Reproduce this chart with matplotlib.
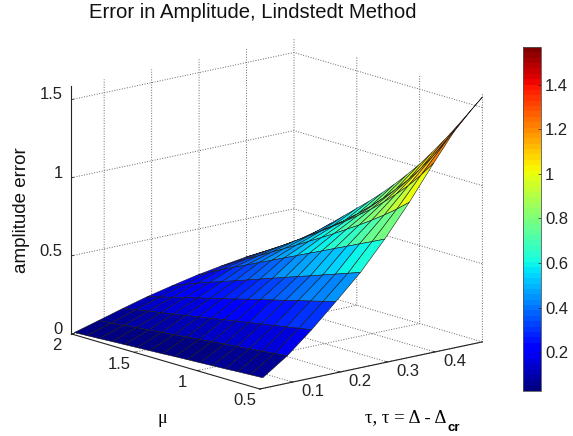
import numpy as np
import matplotlib
matplotlib.use("Agg")
import matplotlib.pyplot as plt
from matplotlib.cm import ScalarMappable
from matplotlib.colors import Normalize

plt.rcParams['font.family'] = ['Liberation Sans', 'DejaVu Sans']
plt.rcParams['grid.linestyle'] = ':'
plt.rcParams['grid.linewidth'] = 0.7
plt.rcParams['grid.color'] = '#666666'

tau_values = [0.037, 0.0885, 0.14, 0.191, 0.243, 0.294, 0.346, 0.397, 0.449, 0.5]
mu_values = [0.5, 0.6, 0.7, 0.8, 0.9, 1.0, 1.1, 1.2, 1.3, 1.4, 1.5, 1.6, 1.7, 1.8, 1.9, 2.0]
error_tau0 = [.068, .064, .060, .055, .051, .047, .043, .039, .034, .030, .026, .022, .018, .013, .009, .005]
error_tau1 = [.175, .167, .158, .150, .141, .133, .125, .116, .108, .099, .091, .083, .074, .066, .057, .049]
error_tau2 = [.309, .295, .280, .266, .252, .237, .223, .209, .194, .180, .166, .151, .137, .123, .108, .094]
error_tau3 = [.456, .435, .413, .392, .371, .349, .328, .307, .285, .264, .243, .221, .200, .179, .157, .136]
error_tau4 = [.610, .581, .552, .523, .494, .466, .437, .408, .379, .350, .321, .293, .264, .235, .204, .172]
error_tau5 = [.790, .751, .713, .674, .636, .597, .559, .520, .482, .443, .405, .366, .328, .289, .247, .205]
error_tau6 = [.993, .925, .864, .807, .753, .702, .651, .602, .555, .507, .460, .414, .368, .323, .278, .232]
error_tau7 = [1.21, 1.110, 1.020, .940, .865, .797, .735, .675, .618, .562, .507, .455, .402, .352, .303, .255]
error_tau8 = [1.42, 1.29, 1.175, 1.07, .975, .89, .81, .735, .665, .60, .54, .48, .425, .37, .318, .270]
error_tau9 = [1.568, 1.45, 1.335, 1.225, 1.12, 1.02, .93, .845, .765, .69, .62, .55, .48, .41, .345, .278]
z_ticks = [0, 0.5, 1, 1.5]
tau_ticks = [0.1, 0.2, 0.3, 0.4]
mu_ticks = [0.5, 1, 1.5, 2]
cbar_ticks = [0.2, 0.4, 0.6, 0.8, 1, 1.2, 1.4]
cbar_range = (0.025, 1.57)

Z = np.array([error_tau0, error_tau1, error_tau2, error_tau3, error_tau4,
              error_tau5, error_tau6, error_tau7, error_tau8, error_tau9])
M, T = np.meshgrid(mu_values, tau_values)

W, H = 573, 436
fig = plt.figure(figsize=(W / 100, H / 100), dpi=100)
ax = fig.add_axes([0.023, -0.0046, 0.9, 1], projection='3d', proj_type='ortho')
ax.view_init(elev=14.4, azim=-130.4)
ax.set_box_aspect((291.5, 290, 255), zoom=1.08)

cmap = matplotlib.colormaps['jet'].resampled(64)
norm = Normalize(*cbar_range)
ax.plot_surface(T, M, Z, facecolors=cmap(norm(Z)), rstride=1, cstride=1,
                shade=False, edgecolor='#1a1a1a', linewidth=0.4, antialiased=True)

ax.set_xlim(0.031, 0.5, view_margin=0)
ax.set_ylim(0.5, 2, view_margin=0)
ax.set_zlim(0, 1.585, view_margin=0)
ax.set_xticks(tau_ticks)
ax.set_xticklabels(['0.1', '0.2', '0.3', '0.4'])
ax.set_yticks(mu_ticks)
ax.set_yticklabels(['0.5', '1', '1.5', '2'])
ax.set_zticks(z_ticks)
ax.set_zticklabels(['0', '0.5', '1', '1.5'])
for a in (ax.xaxis, ax.yaxis, ax.zaxis):
    a.set_pane_color((1, 1, 1, 1))
    a.pane.set_edgecolor('none')
    a.line.set_color('#222222')
    a.line.set_linewidth(0.8)
    a._axinfo['tick']['inward_factor'] = 0.0
    a._axinfo['tick']['outward_factor'] = 0.12
    a._axinfo['tick']['linewidth'] = {True: 0.6, False: 0.4}
ax.tick_params(axis='both', labelsize=12, colors='#222222')
ax.xaxis.set_tick_params(pad=-0.5)
ax.yaxis.set_tick_params(pad=2.8)
ax.zaxis.set_tick_params(pad=-4.5)
for t in ax.get_xticklabels():
    t.set_ha('left')
    t.set_va('baseline')
for t in ax.get_yticklabels():
    t.set_va('bottom')
for t in ax.get_zticklabels():
    t.set_va('baseline')
    t.set_ha('right')

fig.text(253 / W, 1 - 13 / H, 'Error in Amplitude, Lindstedt Method', ha='center', va='center', fontsize=14.6, color='#111111')
fig.text(22 / W, 1 - 210 / H, 'amplitude error', rotation=90, ha='center', va='center', fontsize=13.5, color='#111111')
fig.text(162 / W, 1 - 418 / H, '\u03bc', ha='center', va='center', fontsize=13, family='Liberation Serif')
fig.text(365 / W, 1 - 418 / H, '\u03c4, \u03c4 = \u0394 - \u0394', ha='left', va='center', fontsize=13.5, family='Liberation Serif')
fig.text(448 / W, 1 - 434 / H, 'cr', ha='left', va='bottom', fontsize=9.5, fontweight='bold')

cax = fig.add_axes([523 / W, 1 - 391 / H, 18 / W, 344 / H])
cb = fig.colorbar(ScalarMappable(norm=norm, cmap=cmap), cax=cax, ticks=cbar_ticks)
cb.ax.set_yticklabels(['0.2', '0.4', '0.6', '0.8', '1', '1.2', '1.4'])
cb.ax.tick_params(labelsize=12, length=2, width=0.5, direction='in', pad=3, colors='#222222')
cb.outline.set_linewidth(0.6)
cb.outline.set_edgecolor('#555555')

fig.savefig('out.png', dpi=100)
